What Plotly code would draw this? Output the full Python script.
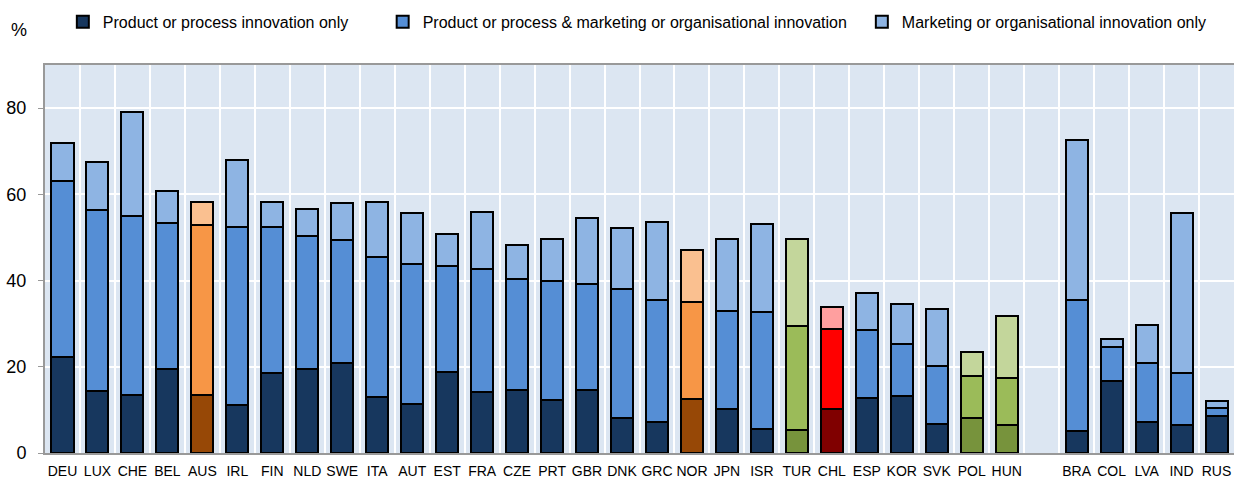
import plotly.graph_objects as go

# Countries (blank slot separates the partner economies)
countries = ["DEU", "LUX", "CHE", "BEL", "AUS", "IRL", "FIN", "NLD", "SWE", "ITA",
             "AUT", "EST", "FRA", "CZE", "PRT", "GBR", "DNK", "GRC", "NOR", "JPN",
             "ISR", "TUR", "CHL", "ESP", "KOR", "SVK", "POL", "HUN", " ",
             "BRA", "COL", "LVA", "IND", "RUS"]

# Shares of firms (%), stacked segments
product_only = [22.3, 14.4, 13.4, 19.5, 13.4, 11.2, 18.5, 19.4, 20.8, 12.9,
                11.4, 18.9, 14.1, 14.5, 12.2, 14.7, 8.1, 7.3, 12.5, 10.2,
                5.6, 5.4, 10.2, 12.8, 13.3, 6.7, 8.2, 6.6, None,
                5.2, 16.8, 7.1, 6.6, 8.5]
product_and_marketing = [40.9, 41.9, 41.5, 33.9, 39.6, 41.2, 33.9, 30.9, 28.5, 32.5,
                         32.5, 24.4, 28.6, 25.8, 27.6, 24.6, 29.9, 28.2, 22.5, 22.8,
                         27.2, 24.0, 18.5, 15.7, 12.0, 13.5, 9.6, 10.9, None,
                         30.4, 7.9, 13.8, 11.9, 1.9]
marketing_only = [8.7, 11.2, 24.2, 7.4, 5.3, 15.6, 5.8, 6.3, 8.7, 12.9,
                  11.8, 7.4, 13.1, 8.0, 9.8, 15.1, 14.2, 18.1, 12.2, 16.7,
                  20.3, 20.3, 5.1, 8.5, 9.3, 13.1, 5.7, 14.2, None,
                  37.1, 1.7, 8.7, 37.2, 1.6]

series_names = ["Product or process innovation only",
                "Product or process & marketing or organisational innovation",
                "Marketing or organisational innovation only"]

# Colour schemes (dark, medium, light) per highlighted country
palettes = {
    "blue":   ["#17375E", "#558ED5", "#8EB4E3"],
    "orange": ["#974806", "#F79646", "#FAC090"],
    "green":  ["#77933C", "#9BBB59", "#C3D69B"],
    "red":    ["#800000", "#FF0000", "#FF9F9F"],
}
highlight = {"AUS": "orange", "NOR": "orange", "TUR": "green",
             "POL": "green", "HUN": "green", "CHL": "red"}

# Each series gets its own legend box, laid out along the top
legend_ids = ["legend", "legend2", "legend3"]
legend_x = [0.015, 0.284, 0.687]

font_family = "Liberation Sans, Arial, sans-serif"
n_slots = len(countries)
x_range = [-0.5, n_slots - 0.5]

fig = go.Figure()
for i, (name, vals) in enumerate(zip(series_names,
                                     [product_only, product_and_marketing, marketing_only])):
    colors = [palettes[highlight.get(c, "blue")][i] for c in countries]
    fig.add_trace(go.Bar(
        x=countries, y=vals, name=name, legend=legend_ids[i],
        marker=dict(color=colors, line=dict(color="black", width=2)),
    ))

fig.add_annotation(text="%", xref="paper", yref="paper", x=-0.022, y=1.09,
                   showarrow=False, xanchor="center", yanchor="middle",
                   font=dict(size=18, family=font_family, color="black"))

legend_style = dict(orientation="h", y=1.111, xanchor="left", yanchor="middle",
                    font=dict(size=16), bgcolor="rgba(0,0,0,0)")

fig.update_layout(
    width=1234, height=500,
    margin=dict(l=45, r=0, t=65, b=47),
    barmode="stack", bargap=0.37,
    plot_bgcolor="#DCE6F2", paper_bgcolor="white",
    font=dict(family=font_family, size=16, color="black"),
    showlegend=True,
    legend=dict(x=legend_x[0], **legend_style),
    legend2=dict(x=legend_x[1], **legend_style),
    legend3=dict(x=legend_x[2], **legend_style),
    xaxis=dict(type="category", categoryorder="array", categoryarray=countries,
               range=x_range, showgrid=False, ticks="", tickangle=0,
               tickfont=dict(size=14), ticklabelstandoff=4,
               showline=True, linecolor="#999999", linewidth=2, mirror=True,
               automargin=False),
    # companion axis drawing the vertical grid between country slots
    xaxis2=dict(overlaying="x", side="bottom", range=x_range, tick0=-0.5, dtick=1,
                showgrid=True, gridcolor="white", gridwidth=1.5,
                showticklabels=False, ticks="", showline=False, zeroline=False),
    yaxis=dict(range=[0, 90], dtick=20, showgrid=True, gridcolor="white", gridwidth=1.5,
               ticks="outside", ticklen=5, tickcolor="#999999", ticklabelstandoff=8,
               showline=True, linecolor="#999999", linewidth=2, zeroline=False,
               tickfont=dict(size=18), automargin=False),
)

# invisible helper trace so the companion axis is rendered
fig.add_trace(go.Scatter(x=x_range, y=[None, None], xaxis="x2", mode="lines",
                         showlegend=False, hoverinfo="skip"))

fig.write_html("out.html")
